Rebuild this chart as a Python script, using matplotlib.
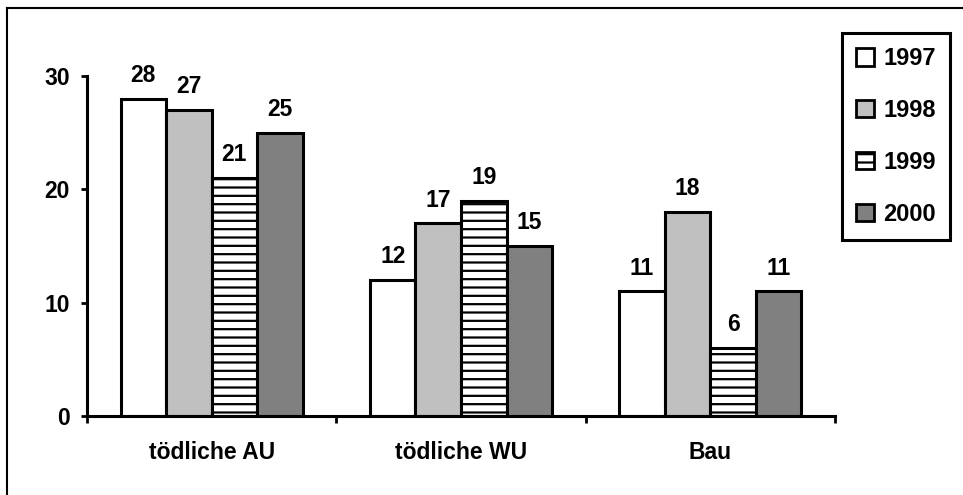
import matplotlib
matplotlib.use("Agg")
import matplotlib.pyplot as plt
from matplotlib.patches import Patch
from matplotlib.lines import Line2D
import numpy as np

categories = ["tödliche AU", "tödliche WU", "Bau"]
years = ["1997", "1998", "1999", "2000"]
values_1997 = [28, 12, 11]
values_1998 = [27, 17, 18]
values_1999 = [21, 19, 6]
values_2000 = [25, 15, 11]
y_ticks = [0, 10, 20, 30]

series = [values_1997, values_1998, values_1999, values_2000]
faces = ["#FFFFFF", "#C0C0C0", "#FFFFFF", "#808080"]
hatches = [None, None, "--", None]

plt.rcParams["font.family"] = ["Liberation Sans", "DejaVu Sans"]
plt.rcParams["font.weight"] = "bold"
plt.rcParams["hatch.linewidth"] = 1.6
plt.rcParams["hatch.color"] = "black"

FS = 16.5

fig = plt.figure(figsize=(9.63, 4.95), dpi=100)
ax = fig.add_axes([87 / 963, 1 - 416 / 495, (835 - 87) / 963, (416 - 76) / 495])

x = np.arange(len(categories))
width = 0.1825
for k, (vals, fc, h) in enumerate(zip(series, faces, hatches)):
    pos = x + (k - 1.5) * width
    bars = ax.bar(pos, vals, width=width, facecolor=fc, edgecolor="black",
                  linewidth=2.2, hatch=h, zorder=2)
    for b, v in zip(bars, vals):
        ax.annotate(str(v), (b.get_x() + b.get_width() / 2, v),
                    xytext=(0, 12), textcoords="offset points",
                    ha="center", va="baseline", fontsize=FS, fontweight="bold")

ax.set_xlim(-0.5, len(categories) - 0.5)
ax.set_ylim(0, 30)
ax.set_yticks(y_ticks)
ax.set_yticklabels([str(t) for t in y_ticks], fontsize=FS, fontweight="bold")
ax.tick_params(axis="y", direction="out", length=4.5, width=2, pad=8)

# category boundaries get the tick marks, names sit between them
ax.set_xticks(np.arange(len(categories) + 1) - 0.5)
ax.set_xticklabels([])
ax.tick_params(axis="x", which="major", direction="out", length=5, width=2)
ax.set_xticks(x, minor=True)
ax.set_xticklabels(categories, minor=True, fontsize=FS, fontweight="bold")
ax.tick_params(axis="x", which="minor", length=0, pad=18)

for side in ("top", "right"):
    ax.spines[side].set_visible(False)
for side in ("left", "bottom"):
    ax.spines[side].set_linewidth(2.2)
ax.patch.set_visible(False)

handles = [Patch(facecolor=fc, edgecolor="black", linewidth=2, hatch=h)
           for fc, h in zip(faces, hatches)]
leg = fig.legend(handles, years, loc="upper left",
                 bbox_to_anchor=(842 / 963, 1 - 33 / 495),
                 fontsize=17, frameon=True, fancybox=False, shadow=False,
                 framealpha=1,
                 handlelength=0.75, handleheight=0.75, handletextpad=0.4,
                 labelspacing=1.22, borderpad=0.6, borderaxespad=0)
leg.get_frame().set_edgecolor("black")
leg.get_frame().set_linewidth(2.2)
for t in leg.get_texts():
    t.set_fontweight("bold")

# outer frame running off the right and bottom edges
fig.add_artist(Line2D([7 / 963, 7 / 963], [0, 1 - 8 / 495], color="black",
                      linewidth=1.5, transform=fig.transFigure))
fig.add_artist(Line2D([7 / 963, 1], [1 - 8 / 495, 1 - 8 / 495], color="black",
                      linewidth=1.5, transform=fig.transFigure))

fig.savefig("out.png", dpi=100)
